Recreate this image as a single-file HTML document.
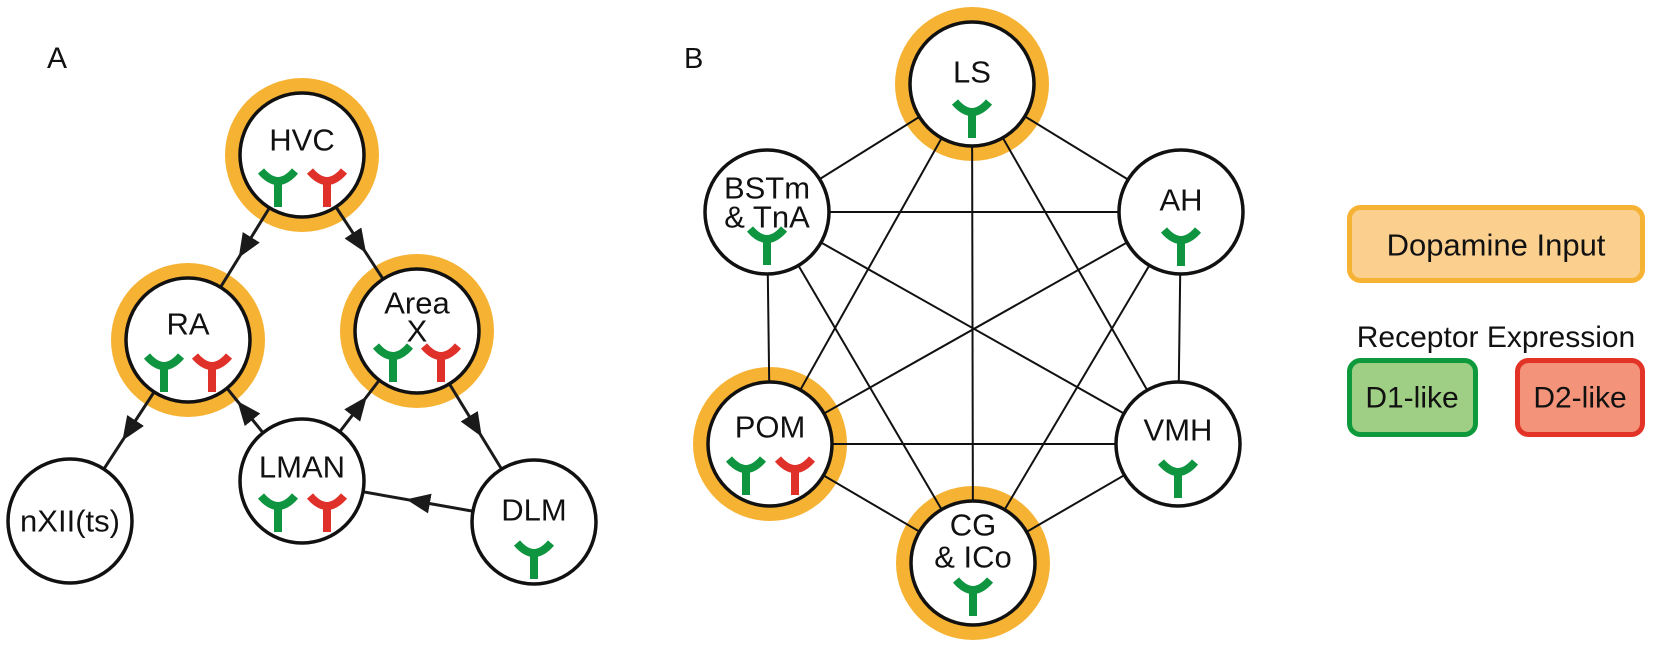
<!DOCTYPE html>
<html><head><meta charset="utf-8"><style>
html,body{margin:0;padding:0;background:#fff;}
svg{display:block;}
text{font-family:"Liberation Sans",Arial,sans-serif;fill:#111;}
</style></head><body>
<svg width="1654" height="647" viewBox="0 0 1654 647" xmlns="http://www.w3.org/2000/svg">
<defs>
<marker id="ah" viewBox="0 0 24 20" markerWidth="24" markerHeight="20" refX="12" refY="10" orient="auto" markerUnits="userSpaceOnUse">
<path d="M0,0 L24,10 L0,20 Z" fill="#1a1a1a"/>
</marker>
<g id="g"><path d="M-17,0 Q0,20 17,0" fill="none" stroke="#0f9440" stroke-width="8"/><line x1="0" y1="8" x2="0" y2="36" stroke="#0f9440" stroke-width="8"/></g>
<g id="r"><path d="M-17,0 Q0,20 17,0" fill="none" stroke="#e0302a" stroke-width="8"/><line x1="0" y1="8" x2="0" y2="36" stroke="#e0302a" stroke-width="8"/></g>
</defs>

<text x="47" y="68" font-size="30">A</text>
<text x="684" y="68" font-size="29">B</text>

<!-- Panel A orange rings -->
<g fill="#f6b233">
<circle cx="302" cy="155" r="77"/>
<circle cx="188" cy="340" r="77"/>
<circle cx="417" cy="331" r="77"/>
</g>
<!-- Panel A edges -->
<g stroke="#1a1a1a" stroke-width="3" fill="none" marker-mid="url(#ah)">
<polyline points="302,155 245,247.5 188,340"/>
<polyline points="302,155 359.5,243 417,331"/>
<polyline points="188,340 129,430.5 70,521"/>
<polyline points="302,481 245,410.5 188,340"/>
<polyline points="302,481 359.5,406 417,331"/>
<polyline points="417,331 475.5,426.5 534,522"/>
<polyline points="534,522 418,501.5 302,481"/>
</g>
<!-- Panel A nodes -->
<g fill="#fff" stroke="#111" stroke-width="3.5">
<circle cx="302" cy="155" r="62"/>
<circle cx="188" cy="340" r="62"/>
<circle cx="417" cy="331" r="62"/>
<circle cx="302" cy="481" r="62"/>
<circle cx="70" cy="521" r="62"/>
<circle cx="534" cy="522" r="62"/>
</g>
<g font-size="31" text-anchor="middle" dominant-baseline="central">
<text x="302" y="140">HVC</text>
<text x="188" y="324">RA</text>
<text x="417" y="303">Area</text>
<text x="417" y="331">X</text>
<text x="302" y="467">LMAN</text>
<text x="70" y="521">nXII(ts)</text>
<text x="534" y="510">DLM</text>
</g>
<use href="#g" x="278" y="171"/><use href="#r" x="327" y="171"/>
<use href="#g" x="164" y="356"/><use href="#r" x="212" y="356"/>
<use href="#g" x="393" y="346"/><use href="#r" x="441" y="346"/>
<use href="#g" x="278" y="496"/><use href="#r" x="327" y="496"/>
<use href="#g" x="534" y="543"/>

<!-- Panel B orange rings -->
<g fill="#f6b233">
<circle cx="972" cy="84" r="77"/>
<circle cx="770" cy="444" r="77"/>
<circle cx="973" cy="563" r="77"/>
</g>
<!-- Panel B edges (complete graph) -->
<g stroke="#111" stroke-width="2">
<line x1="972" y1="84" x2="767" y2="212"/>
<line x1="972" y1="84" x2="1181" y2="212"/>
<line x1="972" y1="84" x2="770" y2="444"/>
<line x1="972" y1="84" x2="973" y2="563"/>
<line x1="972" y1="84" x2="1178" y2="444"/>
<line x1="767" y1="212" x2="1181" y2="212"/>
<line x1="767" y1="212" x2="770" y2="444"/>
<line x1="767" y1="212" x2="973" y2="563"/>
<line x1="767" y1="212" x2="1178" y2="444"/>
<line x1="1181" y1="212" x2="770" y2="444"/>
<line x1="1181" y1="212" x2="1178" y2="444"/>
<line x1="1181" y1="212" x2="973" y2="563"/>
<line x1="770" y1="444" x2="1178" y2="444"/>
<line x1="770" y1="444" x2="973" y2="563"/>
<line x1="1178" y1="444" x2="973" y2="563"/>
</g>
<g fill="#fff" stroke="#111" stroke-width="3.5">
<circle cx="972" cy="84" r="62"/>
<circle cx="767" cy="212" r="62"/>
<circle cx="1181" cy="212" r="62"/>
<circle cx="770" cy="444" r="62"/>
<circle cx="1178" cy="444" r="62"/>
<circle cx="973" cy="563" r="62"/>
</g>
<g font-size="31" text-anchor="middle" dominant-baseline="central">
<text x="972" y="72">LS</text>
<text x="767" y="188">BSTm</text>
<text x="767" y="217">&amp; TnA</text>
<text x="1181" y="200">AH</text>
<text x="770" y="427">POM</text>
<text x="1178" y="430">VMH</text>
<text x="973" y="525">CG</text>
<text x="973" y="557">&amp; ICo</text>
</g>
<use href="#g" x="972" y="102"/>
<use href="#g" x="767" y="229"/>
<use href="#g" x="1181" y="230"/>
<use href="#g" x="746" y="459"/><use href="#r" x="795" y="459"/>
<use href="#g" x="1178" y="462"/>
<use href="#g" x="973" y="580"/>

<!-- Legend -->
<rect x="1349.5" y="207.5" width="293" height="73" rx="11" fill="#fbd08f" stroke="#f6b233" stroke-width="5"/>
<text x="1496" y="245" font-size="31" text-anchor="middle" dominant-baseline="central">Dopamine Input</text>
<text x="1496" y="347" font-size="30" text-anchor="middle">Receptor Expression</text>
<rect x="1349.5" y="360.5" width="126" height="74" rx="11" fill="#9fcf85" stroke="#0e9a3c" stroke-width="5"/>
<text x="1412" y="398" font-size="30" text-anchor="middle" dominant-baseline="central">D1-like</text>
<rect x="1517.5" y="360.5" width="125" height="74" rx="11" fill="#f2937a" stroke="#e33326" stroke-width="5"/>
<text x="1580" y="398" font-size="30" text-anchor="middle" dominant-baseline="central">D2-like</text>
</svg>
</body></html>
